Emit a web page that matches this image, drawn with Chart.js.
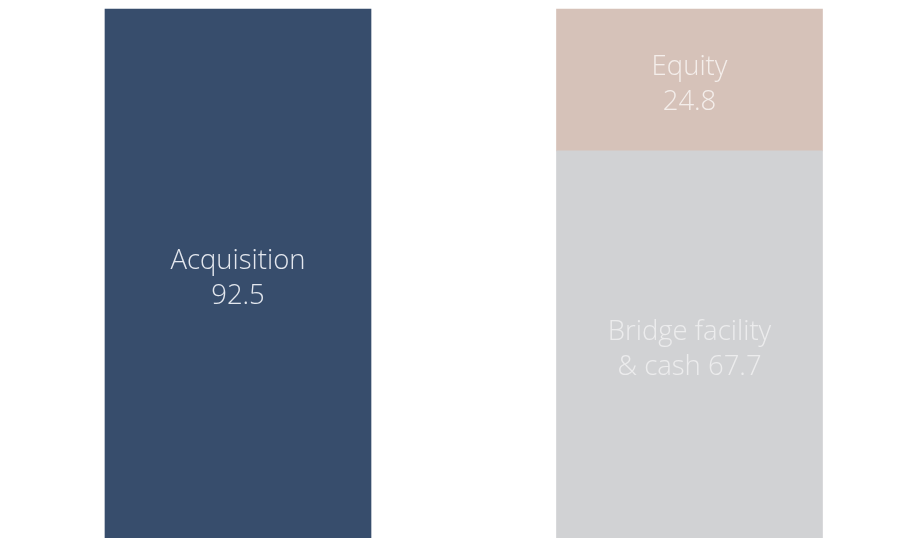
<!DOCTYPE html>
<html>
<head>
<meta charset="utf-8">
<script src="https://cdn.jsdelivr.net/npm/chart.js@4/dist/chart.umd.min.js"></script>
<style>
  html, body { margin: 0; padding: 0; background: #ffffff; overflow: hidden; }
  #wrap { width: 908px; height: 538px; position: relative; }
</style>
</head>
<body>
<div id="wrap"><canvas id="chart"></canvas></div>
<script>
// Uses and sources of funds for the acquisition
const categories = ['Uses', 'Sources'];
const acquisition = [92.5, null];
const bridgeCash = [null, 67.7];
const equity = [null, 24.8];

const segmentNames = ['Acquisition', 'Bridge facility', 'Equity'];

// Text written inside each segment: name + value, two lines centred on the segment
const segmentLabel = {
  id: 'segmentLabel',
  afterDatasetsDraw(chart) {
    const ctx = chart.ctx;
    ctx.save();
    ctx.textAlign = 'center';
    ctx.textBaseline = 'alphabetic';
    ctx.font = '300 27.5px "Open Sans", "Noto Sans", sans-serif';
    chart.data.datasets.forEach((ds, di) => {
      const meta = chart.getDatasetMeta(di);
      meta.data.forEach((bar, i) => {
        const v = ds.data[i];
        if (v === null || v === undefined) return;
        const p = bar.getProps(['x', 'y', 'base'], true);
        const cy = (p.y + p.base) / 2;
        const lines = ds.textLines(v);
        const lh = 35;
        ctx.fillStyle = ds.textColor;
        lines.forEach((t, k) => {
          ctx.fillText(t, p.x, cy + 13 + (k - (lines.length - 1) / 2) * lh);
        });
      });
    });
    ctx.restore();
  }
};

new Chart(document.getElementById('chart'), {
  type: 'bar',
  data: {
    labels: categories,
    datasets: [
      {
        label: segmentNames[0],
        data: acquisition,
        backgroundColor: '#374d6c',
        textColor: '#e3e7ee',
        textLines: v => [segmentNames[0], v.toFixed(1)]
      },
      {
        label: segmentNames[1],
        data: bridgeCash,
        backgroundColor: '#d1d2d4',
        textColor: '#ececed',
        textLines: v => [segmentNames[1], '& cash ' + v.toFixed(1)]
      },
      {
        label: segmentNames[2],
        data: equity,
        backgroundColor: '#d6c2b9',
        textColor: '#f4eeeb',
        textLines: v => [segmentNames[2], v.toFixed(1)]
      }
    ]
  },
  options: {
    responsive: true,
    maintainAspectRatio: false,
    animation: false,
    layout: { padding: { left: 238, right: 218.5, top: 9, bottom: 0 } },
    datasets: { bar: { barThickness: 266, clip: false, borderWidth: 0 } },
    plugins: { legend: { display: false }, tooltip: { enabled: false } },
    scales: {
      x: { stacked: true, offset: false, display: false },
      y: { stacked: true, min: 0, max: 92.5, display: false }
    }
  },
  plugins: [segmentLabel]
});
</script>
</body>
</html>
